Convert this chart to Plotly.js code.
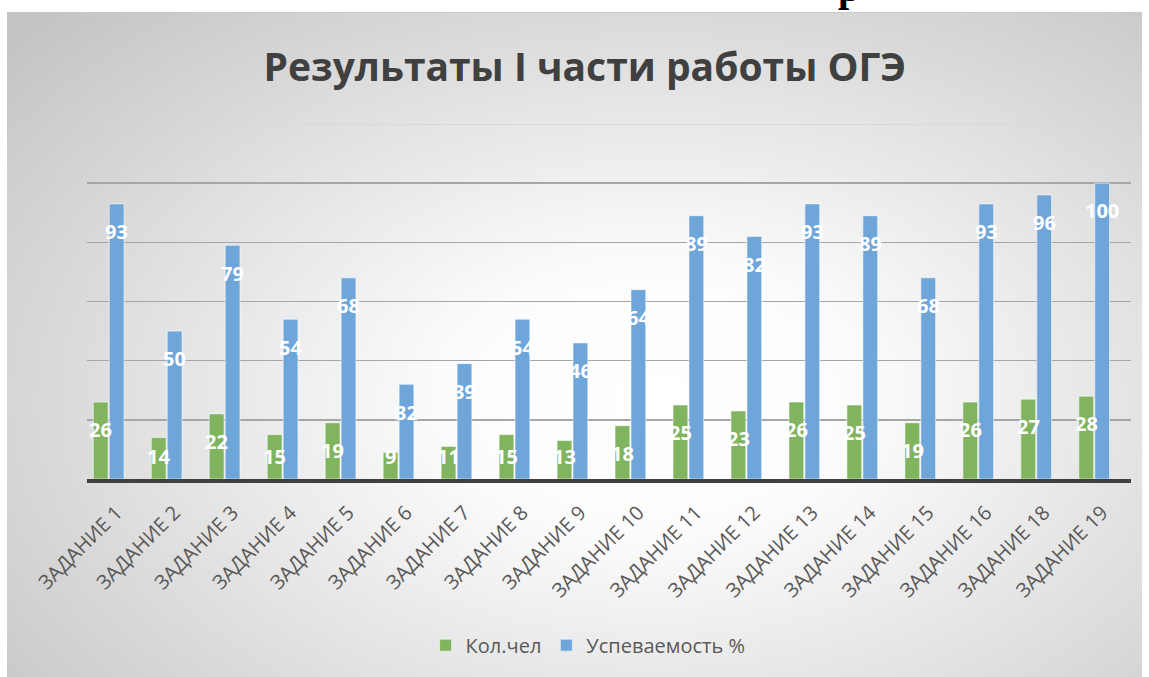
<!DOCTYPE html>
<html>
<head>
<meta charset="utf-8">
<script src="https://cdn.plot.ly/plotly-3.0.1.min.js"></script>
<style>
  html, body { margin:0; padding:0; background:#ffffff; width:1149px; height:677px; overflow:hidden; }
  #frame { position:absolute; left:7px; top:12px; width:1135px; height:665px;
    background: radial-gradient(ellipse 75% 82% at 57% 58%, #ffffff 0%, #fcfcfc 24%, #c4c4c4 100%);
    border-top:1px solid #c9c9c9; }
  #chart { position:absolute; left:0; top:0; width:1149px; height:677px; }
  #cut { position:absolute; left:0; top:0; }
</style>
</head>
<body>
<div id="frame"></div>
<svg id="cut" width="1149" height="12"><text x="838" y="1" font-family="Liberation Serif" font-weight="bold" font-size="40" fill="#000">р</text></svg>
<div id="chart"></div>
<script>
const categories = ['ЗАДАНИЕ 1','ЗАДАНИЕ 2','ЗАДАНИЕ 3','ЗАДАНИЕ 4','ЗАДАНИЕ 5','ЗАДАНИЕ 6','ЗАДАНИЕ 7','ЗАДАНИЕ 8','ЗАДАНИЕ 9','ЗАДАНИЕ 10','ЗАДАНИЕ 11','ЗАДАНИЕ 12','ЗАДАНИЕ 13','ЗАДАНИЕ 14','ЗАДАНИЕ 15','ЗАДАНИЕ 16','ЗАДАНИЕ 18','ЗАДАНИЕ 19'];
const kolChel = [26,14,22,15,19,9,11,15,13,18,25,23,26,25,19,26,27,28];
const uspevaemost = [93,50,79,54,68,32,39,54,46,64,89,82,93,89,68,93,96,100];
const seriesNames = ['Кол.чел','Успеваемость %'];
const titleText = 'Результаты I части работы ОГЭ';

const green = '#80b45e';
const blue = '#6fa6da';

const traces = [
  { type:'bar', name:seriesNames[0], x:categories, y:kolChel,
    width:0.255, offset:-0.40,
    marker:{ color:green, line:{ color:'rgba(255,255,255,0.55)', width:1 } },
    hoverinfo:'skip' },
  { type:'bar', name:seriesNames[1], x:categories, y:uspevaemost,
    width:0.255, offset:-0.125,
    marker:{ color:blue, line:{ color:'rgba(255,255,255,0.55)', width:1 } },
    hoverinfo:'skip' }
];

// data labels: white bold, centred on each bar, a bit below its top
const labelFont = { family:'Open Sans', size:20, color:'#ffffff', weight:'bold' };
function labelY(v){ return Math.max(v - 9.4, 7.6); }
const annotations = [];
categories.forEach((c,i)=>{
  annotations.push({ x:c, y:labelY(kolChel[i]), xref:'x', yref:'y', text:'<b>'+kolChel[i]+'</b>',
    showarrow:false, xshift:-16, yanchor:'middle', font:labelFont });
  annotations.push({ x:c, y:labelY(uspevaemost[i]), xref:'x', yref:'y', text:'<b>'+uspevaemost[i]+'</b>',
    showarrow:false, xshift:0, yanchor:'middle', font:labelFont });
});

const layout = {
  width:1149, height:677,
  margin:{ l:87, r:18, t:123.5, b:197.5 },
  paper_bgcolor:'rgba(0,0,0,0)',
  plot_bgcolor:'rgba(0,0,0,0)',
  title:{ text:'<b>'+titleText+'</b>', xref:'container', x:0.509, xanchor:'center',
    yref:'container', y:0.9, yanchor:'middle',
    font:{ family:'Open Sans', size:39, color:'#404040' } },
  xaxis:{ type:'category', tickangle:-45, showline:true, linecolor:'#404040', linewidth:4,
    showgrid:false, ticks:'', ticklabelstandoff:10,
    tickfont:{ family:'Open Sans', size:20, color:'#595959' },
    fixedrange:true },
  yaxis:{ range:[0,120], tickvals:[20,40,60,80,100], showticklabels:false, ticks:'',
    showgrid:true, gridcolor:'#a6a6a6', gridwidth:1.5, zeroline:false, fixedrange:true },
  shapes:[ { type:'line', xref:'paper', yref:'y', x0:0, x1:1, y0:120, y1:120,
    line:{ color:'#d6d6d6', width:1.5 }, layer:'below' } ],
  showlegend:true,
  legend:{ orientation:'h', x:0.48, xanchor:'center', y:-0.468, yanchor:'middle',
    font:{ family:'Open Sans', size:20, color:'#595959' }, bgcolor:'rgba(0,0,0,0)' },
  annotations:annotations
};

Plotly.newPlot('chart', traces, layout, { displayModeBar:false, staticPlot:true });
</script>
</body>
</html>
